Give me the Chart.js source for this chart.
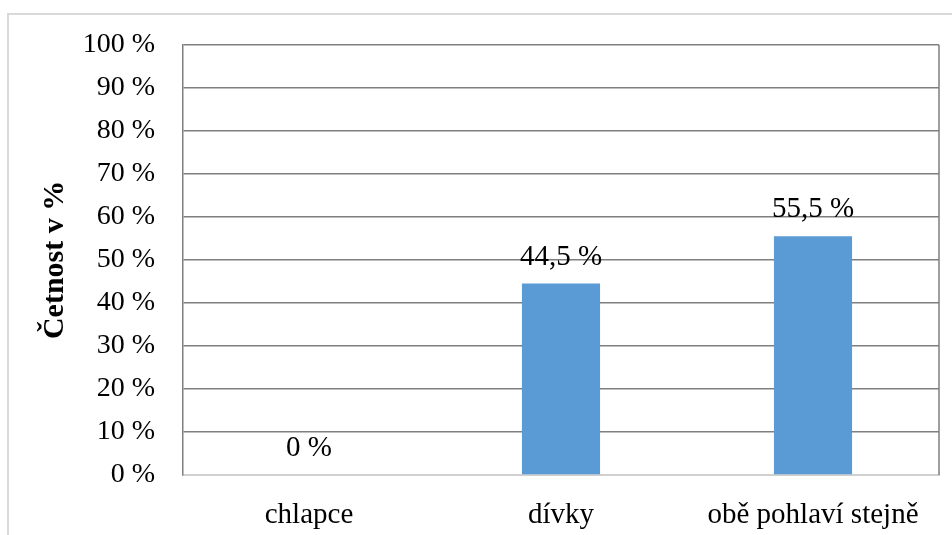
<!DOCTYPE html>
<html>
<head>
<meta charset="utf-8">
<script src="https://cdn.jsdelivr.net/npm/chart.js@4"></script>
<style>
    body { margin: 0; background: #fff; }
    canvas { display: block; }
</style>
</head>
<body>
<canvas id="chart" width="952" height="535"></canvas>
<script>
// 데이터
const categories = ['chlapce', 'dívky', 'obě pohlaví stejně'];
const values = [0, 44.5, 55.5];
const yTicks = [0, 10, 20, 30, 40, 50, 60, 70, 80, 90, 100];

const serif = "'Liberation Serif', 'Times New Roman', serif";

// 퍼센트 표기 (소수점은 쉼표)
function formatPercent(v) {
    return String(v).replace('.', ',') + ' %';
}

// 바깥 테두리 + 오른쪽 축선
const framePlugin = {
    id: 'frame',
    beforeDraw(chart) {
        const ctx = chart.ctx;
        ctx.save();
        ctx.fillStyle = '#fff';
        ctx.fillRect(0, 0, chart.width, chart.height);
        ctx.strokeStyle = '#d9d9d9';
        ctx.lineWidth = 2;
        ctx.strokeRect(8, 14, chart.width + 20, chart.height + 20);
        ctx.restore();
    },
    beforeDatasetsDraw(chart) {
        const { ctx, chartArea } = chart;
        ctx.save();
        ctx.strokeStyle = '#7f7f7f';
        ctx.lineWidth = 1.5;
        ctx.beginPath();
        ctx.moveTo(chartArea.right, chartArea.top);
        ctx.lineTo(chartArea.right, chartArea.bottom);
        ctx.stroke();
        ctx.restore();
    }
};

// 막대 위 값 표시
const valueLabels = {
    id: 'valueLabels',
    afterDatasetsDraw(chart) {
        const ctx = chart.ctx;
        const meta = chart.getDatasetMeta(0);
        ctx.save();
        ctx.font = '29px ' + serif;
        ctx.fillStyle = '#000';
        ctx.textAlign = 'center';
        ctx.textBaseline = 'alphabetic';
        meta.data.forEach((bar, i) => {
            ctx.fillText(formatPercent(values[i]), bar.x, bar.y - 19);
        });
        ctx.restore();
    }
};

new Chart(document.getElementById('chart'), {
    type: 'bar',
    data: {
        labels: categories,
        datasets: [{
            data: values,
            backgroundColor: '#5b9bd5',
            categoryPercentage: 1,
            barPercentage: 0.31
        }]
    },
    options: {
        responsive: false,
        animation: false,
        layout: { padding: { left: 37, top: 43, right: 13, bottom: 0 } },
        plugins: {
            legend: { display: false },
            tooltip: { enabled: false }
        },
        scales: {
            x: {
                grid: { display: false },
                border: { color: '#d0d0d0', width: 2 },
                ticks: {
                    color: '#000',
                    font: { family: serif, size: 29 },
                    padding: 15,
                    maxRotation: 0
                },
                afterFit(scale) { scale.height = 60; }
            },
            y: {
                min: 0,
                max: 100,
                afterBuildTicks(scale) {
                    scale.ticks = yTicks.map(v => ({ value: v }));
                },
                grid: { color: '#7f7f7f', lineWidth: 1.5, drawTicks: false },
                border: { color: '#7f7f7f', width: 1.5 },
                ticks: {
                    color: '#000',
                    font: { family: serif, size: 28 },
                    padding: 28,
                    callback: v => v + ' %'
                },
                title: {
                    display: true,
                    text: 'Četnost v %',
                    color: '#000',
                    font: { family: serif, size: 30, weight: 'bold' },
                    padding: 0
                },
                afterFit(scale) { scale.width = 146; }
            }
        }
    },
    plugins: [framePlugin, valueLabels]
});
</script>
</body>
</html>
